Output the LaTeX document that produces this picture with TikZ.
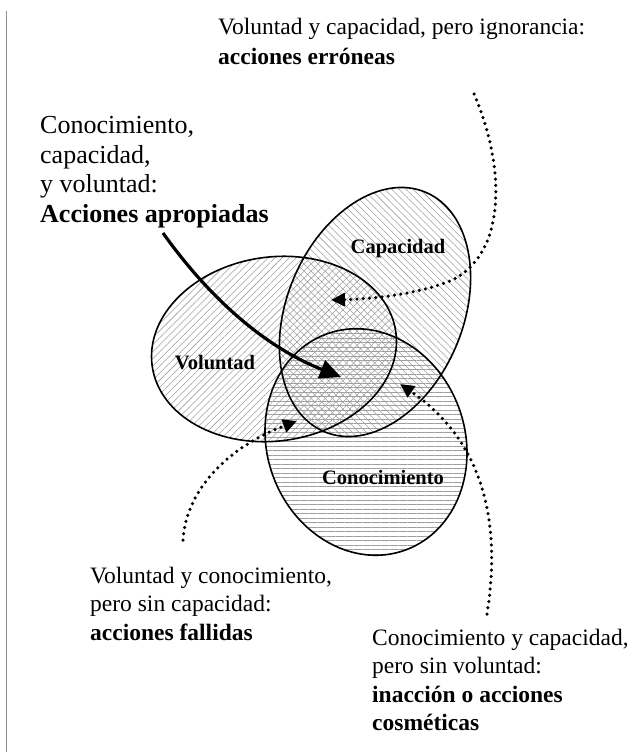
\documentclass[tikz,border=0pt]{standalone}
\usepackage{fontspec}
\setmainfont{Liberation Serif}
\usetikzlibrary{arrows.meta,patterns.meta}
\begin{document}
\begin{tikzpicture}[x=1pt,y=-1pt,
  txt/.style={anchor=base west, inner sep=0pt, font=\fontsize{23.5}{28.5}\selectfont},
  btxt/.style={txt, font=\fontsize{23.5}{28.5}\selectfont\bfseries},
  bigtxt/.style={anchor=base west, inner sep=0pt, font=\fontsize{26}{30}\selectfont},
  bigbtxt/.style={bigtxt, font=\fontsize{26}{30}\selectfont\bfseries},
  lbl/.style={inner sep=0pt, font=\fontsize{20.5}{24}\selectfont\bfseries},
  ell/.style={line width=1.6pt},
  hatchA/.style={pattern={Lines[angle=45,distance=5pt,line width=0.55pt]}, pattern color=black!38},
  hatchB/.style={pattern={Lines[angle=-45,distance=5pt,line width=0.55pt]}, pattern color=black!38},
  hatchC/.style={pattern={Lines[angle=0,distance=4.5pt,line width=0.55pt]}, pattern color=black!38},
  dotarrow/.style={line width=3.5pt, dash pattern=on 0pt off 6.3pt, line cap=round, -{Triangle[length=14pt,width=13pt]}},
  bigarrow/.style={line width=3.2pt, -{Triangle[length=21pt,width=19pt]}},
]
\useasboundingbox (0,0) rectangle (630,752);
\draw[black!45, line width=1pt] (6,11) -- (6,752);

% hatched fills
\path[hatchA, rotate around={8:(274,349)}] (274,349) ellipse [x radius=123, y radius=92];
\path[hatchB, rotate around={67:(375,312)}] (375,312) ellipse [x radius=130, y radius=88];
\path[hatchC, rotate around={20:(366,442)}] (366,442) ellipse [x radius=99, y radius=115];
% outlines
\draw[ell, rotate around={8:(274,349)}] (274,349) ellipse [x radius=123, y radius=92];
\draw[ell, rotate around={67:(375,312)}] (375,312) ellipse [x radius=130, y radius=88];
\draw[ell, rotate around={20:(366,442)}] (366,442) ellipse [x radius=99, y radius=115];

% set labels
\node[lbl] (capl) at (398,249) {Capacidad};
\node[lbl] (voll) at (215,363) {Voluntad};
\node[lbl] (conl) at (383,477) {Conocimiento};

% texts
\node[txt]  (top1) at (218,35) {Voluntad y capacidad, pero ignorancia:};
\node[btxt] (top2) at (218,64) {acciones erróneas};
\node[bigtxt]  (left1) at (40,133) {Conocimiento,};
\node[bigtxt]  (left2) at (40,163) {capacidad,};
\node[bigtxt]  (left3) at (40,192) {y voluntad:};
\node[bigbtxt] (left4) at (40,222) {Acciones apropiadas};
\node[txt]  (bl1) at (90,583) {Voluntad y conocimiento,};
\node[txt]  (bl2) at (90,611) {pero sin capacidad:};
\node[btxt] (bl3) at (90,640) {acciones fallidas};
\node[txt]  (br1) at (372,645) {Conocimiento y capacidad,};
\node[txt]  (br2) at (372,673) {pero sin voluntad:};
\node[btxt] (br3) at (372,702) {inacción o acciones};
\node[btxt] (br4) at (372,730) {cosméticas};

% connector endpoints
\coordinate (c1s) at (163,233);
\coordinate (c1e) at (341,377);
\coordinate (c2s) at (474,94);
\coordinate (c2m) at (450,281);
\coordinate (c2e) at (331,300);
\coordinate (c3s) at (183,540);
\coordinate (c3e) at (297,421);
\coordinate (c4s) at (487,614);
\coordinate (c4e) at (400,384);

\draw[bigarrow] (c1s) .. controls (205,292) and (260,345) .. (c1e);
\draw[dotarrow] (c2s) .. controls (505,165) and (508,255) .. (c2m) .. controls (415,295) and (370,299) .. (c2e);
\draw[dotarrow] (c3s) .. controls (186,490) and (228,447) .. (c3e);
\draw[dotarrow] (c4s) .. controls (502,520) and (482,440) .. (c4e);
\end{tikzpicture}
\end{document}
